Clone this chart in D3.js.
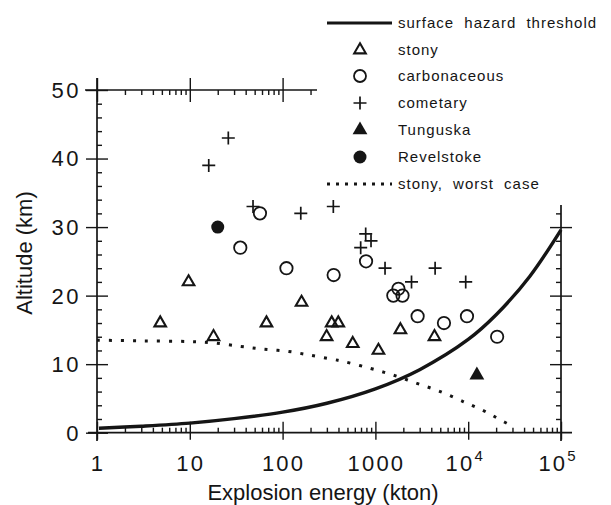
<!DOCTYPE html>
<html><head><meta charset="utf-8">
<script src="https://cdn.jsdelivr.net/npm/d3@7"></script>
<style>
body{margin:0;background:#fff;}
svg{display:block;font-family:"Liberation Sans",Arial,Helvetica,sans-serif;}
</style></head><body>
<svg id="c" width="611" height="505"></svg>
<script>
// ---- data ----
const stonyE  = [4.8, 9.7, 18, 67, 160, 298, 338, 398, 570, 1078, 1860, 4330];
const stonyA  = [16, 22, 14, 16, 19, 14, 16, 16, 13, 12, 15, 14];
const carbE   = [57, 35, 110, 355, 793, 1770, 1560, 1960, 2850, 5480, 9700, 20500];
const carbA   = [32, 27, 24, 23, 25, 21, 20, 20, 17, 16, 17, 14];
const cometE  = [16, 26, 48, 157, 352, 786, 897, 694, 1270, 2450, 4400, 9400];
const cometA  = [39, 43, 33, 32, 33, 29, 28, 27, 24, 22, 24, 22];
const tunguskaE = [12400];
const tunguskaA = [8.4];
const revelE  = [20];
const revelA  = [30];
const hazardE = [1.05, 3, 10, 30, 100, 300, 1000, 3000, 10000, 20000, 46000, 100000];
const hazardA = [0.65, 0.95, 1.4, 2.05, 3.0, 4.3, 6.4, 9.2, 13.6, 17.2, 22.8, 29.6];
const worstE  = [1, 3, 10, 18, 35, 60, 110, 200, 350, 450, 875, 1560, 2800, 5000, 8800, 12000, 16500, 22000, 29500];
const worstA  = [13.5, 13.4, 13.3, 13.1, 12.6, 12.2, 11.9, 11.3, 10.7, 10.4, 9.4, 8.4, 7.2, 6.0, 4.55, 3.75, 2.85, 1.9, 1.0];
const xMajor = [1, 10, 100, 1000, 10000, 100000];
const xLabelBase = ["1", "10", "100", "1000", "10", "10"];
const xLabelSup  = ["", "", "", "", "4", "5"];
const yMajor = [0, 10, 20, 30, 40, 50];
const yLabels = ["0", "10", "20", "30", "40", "50"];
const legendLabels = ["surface hazard threshold", "stony", "carbonaceous", "cometary", "Tunguska", "Revelstoke", "stony, worst case"];
const xTitle = "Explosion energy (kton)";
const yTitle = "Altitude (km)";

// ---- drawing ----
const ink = "#151515";
const svg = d3.select("#c");
const x = d3.scaleLog().domain([1, 1e5]).range([97, 561]);
const y = d3.scaleLinear().domain([0, 50]).range([432.7, 90]);

const xMinorAll = x.ticks().filter(v => !xMajor.includes(v));
const yMinorAll = d3.range(0, 51, 2).filter(v => v % 10 !== 0);

function styleAxis(g) {
  g.select(".domain").remove();
  g.selectAll("line").attr("stroke", ink).attr("stroke-width", 1.4);
  g.selectAll("text").remove();
}

// bottom axis
const gb = svg.append("g").attr("transform", `translate(0,${y(0)})`);
gb.append("line").attr("x1", 88).attr("x2", 572).attr("stroke", ink).attr("stroke-width", 1.7);
gb.append("g").call(d3.axisBottom(x).tickValues(xMajor).tickSize(7).tickSizeOuter(0)).call(styleAxis)
  .selectAll("line").attr("y1", -11);
gb.append("g").call(d3.axisBottom(x).tickValues(xMinorAll).tickSize(-5).tickSizeOuter(0)).call(styleAxis);

// top axis (partial)
const gt = svg.append("g").attr("transform", `translate(0,${y(50)})`);
gt.append("line").attr("x1", 85).attr("x2", 317).attr("stroke", ink).attr("stroke-width", 1.7);
gt.append("g").call(d3.axisTop(x).tickValues([1, 10, 100]).tickSize(12).tickSizeOuter(0)).call(styleAxis)
  .selectAll("line").attr("y1", 12);
gt.append("g").call(d3.axisTop(x).tickValues(xMinorAll.filter(v => v < 240)).tickSize(-5).tickSizeOuter(0)).call(styleAxis);

// left axis
const gl = svg.append("g").attr("transform", `translate(${x(1)},0)`);
gl.append("line").attr("y1", 78).attr("y2", 441).attr("stroke", ink).attr("stroke-width", 1.7);
gl.append("g").call(d3.axisLeft(y).tickValues(yMajor).tickSize(11).tickSizeOuter(0)).call(styleAxis)
  .selectAll("line").attr("x1", 11);
gl.append("g").call(d3.axisLeft(y).tickValues(yMinorAll).tickSize(-5).tickSizeOuter(0)).call(styleAxis);

// right axis (partial)
const gr = svg.append("g").attr("transform", `translate(${x(1e5)},0)`);
gr.append("line").attr("y1", 205).attr("y2", 441).attr("stroke", ink).attr("stroke-width", 1.7);
gr.append("g").call(d3.axisRight(y).tickValues([10, 20, 30]).tickSize(11).tickSizeOuter(0)).call(styleAxis)
  .selectAll("line").attr("x1", -11);
gr.append("g").call(d3.axisRight(y).tickValues(yMinorAll.filter(v => v < 33)).tickSize(-5).tickSizeOuter(0)).call(styleAxis);

// tick labels
const tickFont = 22;
svg.append("g").selectAll("text").data(yMajor).join("text")
  .attr("x", 81).attr("y", d => y(d)).attr("dy", "0.36em")
  .attr("text-anchor", "end").attr("font-size", tickFont).attr("letter-spacing", 2.5)
  .attr("fill", ink).text((d, i) => yLabels[i]);

const xl = svg.append("g").selectAll("text").data(xMajor).join("text")
  .attr("x", (d, i) => x(d) + (xLabelSup[i] ? -4 : 1)).attr("y", 471)
  .attr("text-anchor", "middle").attr("font-size", tickFont).attr("letter-spacing", 2.2)
  .attr("fill", ink);
xl.append("tspan").text((d, i) => xLabelBase[i]);
xl.append("tspan").attr("font-size", 15).attr("dy", -10).attr("letter-spacing", 0)
  .text((d, i) => xLabelSup[i]);

// axis titles
svg.append("text").attr("x", 323).attr("y", 500).attr("text-anchor", "middle")
  .attr("font-size", 22).attr("fill", ink).text(xTitle);
svg.append("text").attr("transform", "translate(32,253) rotate(-90)").attr("text-anchor", "middle")
  .attr("font-size", 22).attr("fill", ink).text(yTitle);

// curves
const line = d3.line().x(d => x(d[0])).y(d => y(d[1])).curve(d3.curveCatmullRom.alpha(0.5));
svg.append("path").datum(hazardE.map((e, i) => [e, hazardA[i]]))
  .attr("d", line).attr("fill", "none").attr("stroke", ink).attr("stroke-width", 3.4);
svg.append("path").datum(worstE.map((e, i) => [e, worstA[i]]))
  .attr("d", line).attr("fill", "none").attr("stroke", ink).attr("stroke-width", 3)
  .attr("stroke-dasharray", "3,9");

// markers
const tri = d3.symbol().type(d3.symbolTriangle).size(58)();
const triFill = d3.symbol().type(d3.symbolTriangle).size(95)();
const plus = "M-6.5,0H6.5M0,-6.5V6.5";

function pts(E, A) { return E.map((e, i) => [e, A[i]]); }

svg.append("g").selectAll("path").data(pts(stonyE, stonyA)).join("path")
  .attr("transform", d => `translate(${x(d[0])},${y(d[1])})`)
  .attr("d", tri).attr("fill", "none").attr("stroke", ink).attr("stroke-width", 2.1).attr("stroke-linejoin", "miter");
svg.append("g").selectAll("circle").data(pts(carbE, carbA)).join("circle")
  .attr("cx", d => x(d[0])).attr("cy", d => y(d[1])).attr("r", 6.2)
  .attr("fill", "none").attr("stroke", ink).attr("stroke-width", 1.8);
svg.append("g").selectAll("path").data(pts(cometE, cometA)).join("path")
  .attr("transform", d => `translate(${x(d[0])},${y(d[1])})`)
  .attr("d", plus).attr("fill", "none").attr("stroke", ink).attr("stroke-width", 1.7);
svg.append("g").selectAll("path").data(pts(tunguskaE, tunguskaA)).join("path")
  .attr("transform", d => `translate(${x(d[0])},${y(d[1])})`)
  .attr("d", triFill).attr("fill", ink);
svg.append("g").selectAll("circle").data(pts(revelE, revelA)).join("circle")
  .attr("cx", d => x(d[0])).attr("cy", d => y(d[1])).attr("r", 6.5).attr("fill", ink);

// legend
const legY = [23, 50, 76, 103, 130, 157, 184];
const lg = svg.append("g");
lg.selectAll("text").data(legendLabels).join("text")
  .attr("x", 398).attr("y", (d, i) => legY[i]).attr("dy", "0.33em")
  .attr("font-size", 15).attr("letter-spacing", 1).attr("word-spacing", 5)
  .attr("fill", ink).text(d => d);
lg.append("line").attr("x1", 327).attr("x2", 392).attr("y1", legY[0]).attr("y2", legY[0])
  .attr("stroke", ink).attr("stroke-width", 3);
lg.append("path").attr("transform", `translate(360,${legY[1]})`).attr("d", tri)
  .attr("fill", "none").attr("stroke", ink).attr("stroke-width", 2.1);
lg.append("circle").attr("cx", 360).attr("cy", legY[2]).attr("r", 6)
  .attr("fill", "none").attr("stroke", ink).attr("stroke-width", 1.8);
lg.append("path").attr("transform", `translate(360,${legY[3]})`).attr("d", plus)
  .attr("stroke", ink).attr("stroke-width", 1.7);
lg.append("path").attr("transform", `translate(360,${legY[4]})`).attr("d", triFill).attr("fill", ink);
lg.append("circle").attr("cx", 360).attr("cy", legY[5]).attr("r", 6.5).attr("fill", ink);
lg.append("line").attr("x1", 327).attr("x2", 392).attr("y1", legY[6]).attr("y2", legY[6])
  .attr("stroke", ink).attr("stroke-width", 2.8).attr("stroke-dasharray", "3,6");
</script>
</body></html>
